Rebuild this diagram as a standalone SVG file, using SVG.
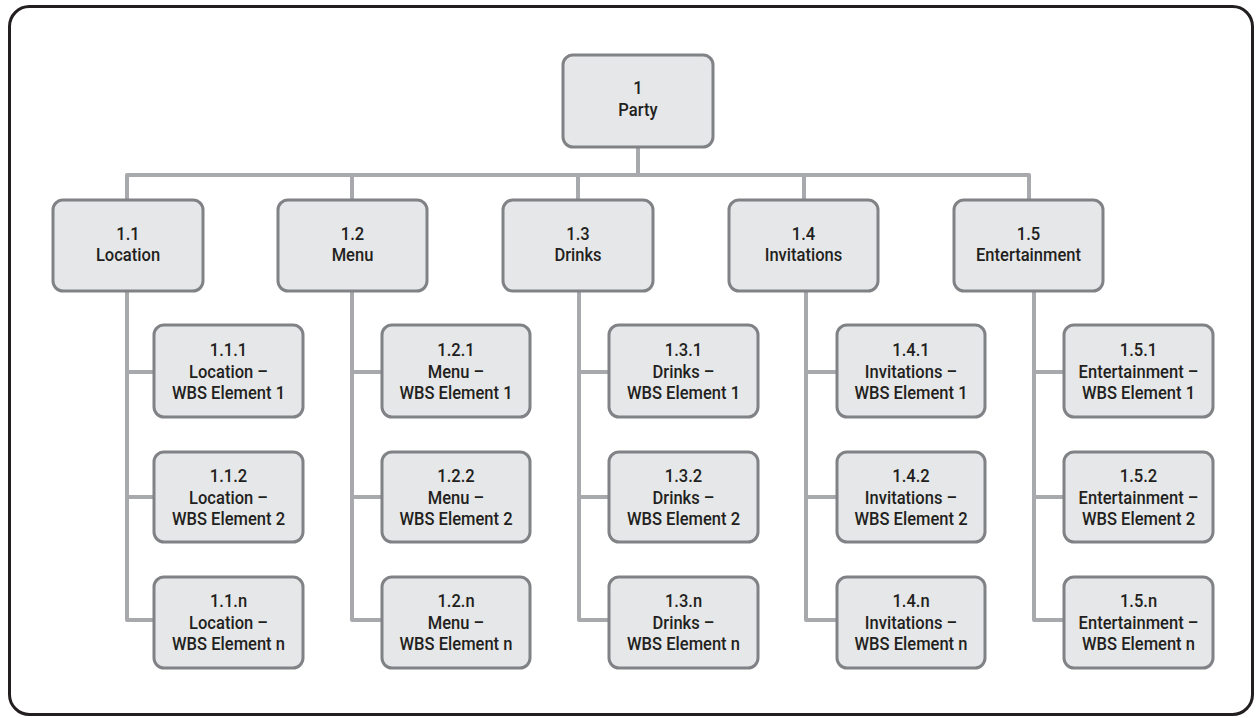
<svg xmlns="http://www.w3.org/2000/svg" width="1257" height="718" viewBox="0 0 1257 718">
<style>
.frame{fill:#fff;stroke:#231f20;stroke-width:3}
.box{fill:#e6e7e8;stroke:#808285;stroke-width:3}
.con{fill:none;stroke:#a7a9ac;stroke-width:4;stroke-linejoin:round}
text{font-family:Roboto,"Liberation Sans",Arial,sans-serif;font-weight:500;font-size:18px;fill:#231f20;text-anchor:middle}
</style>
<rect class="frame" x="9.5" y="6.5" width="1243" height="708" rx="20"/>
<g id="connectors">
<path class="con" d="M638 147V175M127 200V175H1029V200M352 175V200M578 175V200M804 175V200"/>
<path class="con" d="M127 291V620H154M127 372H154M127 497H154"/>
<path class="con" d="M352 291V620H382M352 372H382M352 497H382"/>
<path class="con" d="M579 291V620H609M579 372H609M579 497H609"/>
<path class="con" d="M806 291V620H837M806 372H837M806 497H837"/>
<path class="con" d="M1034 291V620H1064M1034 372H1064M1034 497H1064"/>
</g>
<g id="n1"><rect class="box" x="563" y="55" width="150" height="92" rx="10"/><g transform="matrix(.92 0 0 1 638 0)"><text y="94">1</text><text y="116">Party</text></g></g>
<g id="n1_1"><rect class="box" x="53" y="200" width="150" height="91" rx="10"/><g transform="matrix(.92 0 0 1 128 0)"><text y="240">1.1</text><text y="261">Location</text></g></g>
<g id="n1_2"><rect class="box" x="278" y="200" width="149" height="91" rx="10"/><g transform="matrix(.92 0 0 1 352.5 0)"><text y="240">1.2</text><text y="261">Menu</text></g></g>
<g id="n1_3"><rect class="box" x="503" y="200" width="150" height="91" rx="10"/><g transform="matrix(.92 0 0 1 578 0)"><text y="240">1.3</text><text y="261">Drinks</text></g></g>
<g id="n1_4"><rect class="box" x="729" y="200" width="149" height="91" rx="10"/><g transform="matrix(.92 0 0 1 803.5 0)"><text y="240">1.4</text><text y="261">Invitations</text></g></g>
<g id="n1_5"><rect class="box" x="954" y="200" width="149" height="91" rx="10"/><g transform="matrix(.92 0 0 1 1028.5 0)"><text y="240">1.5</text><text y="261">Entertainment</text></g></g>

<g id="n1_1_1"><rect class="box" x="154" y="325" width="149" height="92" rx="10"/><g transform="matrix(.92 0 0 1 228.5 0)"><text y="356.5">1.1.1</text><text y="378">Location –</text><text y="399.5">WBS Element 1</text></g></g>
<g id="n1_1_2"><rect class="box" x="154" y="452" width="149" height="90" rx="10"/><g transform="matrix(.92 0 0 1 228.5 0)"><text y="482.5">1.1.2</text><text y="504">Location –</text><text y="525.5">WBS Element 2</text></g></g>
<g id="n1_1_n"><rect class="box" x="154" y="577" width="149" height="91" rx="10"/><g transform="matrix(.92 0 0 1 228.5 0)"><text y="607.5">1.1.n</text><text y="629">Location –</text><text y="650.5">WBS Element n</text></g></g>

<g id="n1_2_1"><rect class="box" x="382" y="325" width="148" height="92" rx="10"/><g transform="matrix(.92 0 0 1 456 0)"><text y="356.5">1.2.1</text><text y="378">Menu –</text><text y="399.5">WBS Element 1</text></g></g>
<g id="n1_2_2"><rect class="box" x="382" y="452" width="148" height="90" rx="10"/><g transform="matrix(.92 0 0 1 456 0)"><text y="482.5">1.2.2</text><text y="504">Menu –</text><text y="525.5">WBS Element 2</text></g></g>
<g id="n1_2_n"><rect class="box" x="382" y="577" width="148" height="91" rx="10"/><g transform="matrix(.92 0 0 1 456 0)"><text y="607.5">1.2.n</text><text y="629">Menu –</text><text y="650.5">WBS Element n</text></g></g>

<g id="n1_3_1"><rect class="box" x="609" y="325" width="149" height="92" rx="10"/><g transform="matrix(.92 0 0 1 683.5 0)"><text y="356.5">1.3.1</text><text y="378">Drinks –</text><text y="399.5">WBS Element 1</text></g></g>
<g id="n1_3_2"><rect class="box" x="609" y="452" width="149" height="90" rx="10"/><g transform="matrix(.92 0 0 1 683.5 0)"><text y="482.5">1.3.2</text><text y="504">Drinks –</text><text y="525.5">WBS Element 2</text></g></g>
<g id="n1_3_n"><rect class="box" x="609" y="577" width="149" height="91" rx="10"/><g transform="matrix(.92 0 0 1 683.5 0)"><text y="607.5">1.3.n</text><text y="629">Drinks –</text><text y="650.5">WBS Element n</text></g></g>

<g id="n1_4_1"><rect class="box" x="837" y="325" width="148" height="92" rx="10"/><g transform="matrix(.92 0 0 1 911 0)"><text y="356.5">1.4.1</text><text y="378">Invitations –</text><text y="399.5">WBS Element 1</text></g></g>
<g id="n1_4_2"><rect class="box" x="837" y="452" width="148" height="90" rx="10"/><g transform="matrix(.92 0 0 1 911 0)"><text y="482.5">1.4.2</text><text y="504">Invitations –</text><text y="525.5">WBS Element 2</text></g></g>
<g id="n1_4_n"><rect class="box" x="837" y="577" width="148" height="91" rx="10"/><g transform="matrix(.92 0 0 1 911 0)"><text y="607.5">1.4.n</text><text y="629">Invitations –</text><text y="650.5">WBS Element n</text></g></g>

<g id="n1_5_1"><rect class="box" x="1064" y="325" width="149" height="92" rx="10"/><g transform="matrix(.92 0 0 1 1138.5 0)"><text y="356.5">1.5.1</text><text y="378">Entertainment –</text><text y="399.5">WBS Element 1</text></g></g>
<g id="n1_5_2"><rect class="box" x="1064" y="452" width="149" height="90" rx="10"/><g transform="matrix(.92 0 0 1 1138.5 0)"><text y="482.5">1.5.2</text><text y="504">Entertainment –</text><text y="525.5">WBS Element 2</text></g></g>
<g id="n1_5_n"><rect class="box" x="1064" y="577" width="149" height="91" rx="10"/><g transform="matrix(.92 0 0 1 1138.5 0)"><text y="607.5">1.5.n</text><text y="629">Entertainment –</text><text y="650.5">WBS Element n</text></g></g>
</svg>
